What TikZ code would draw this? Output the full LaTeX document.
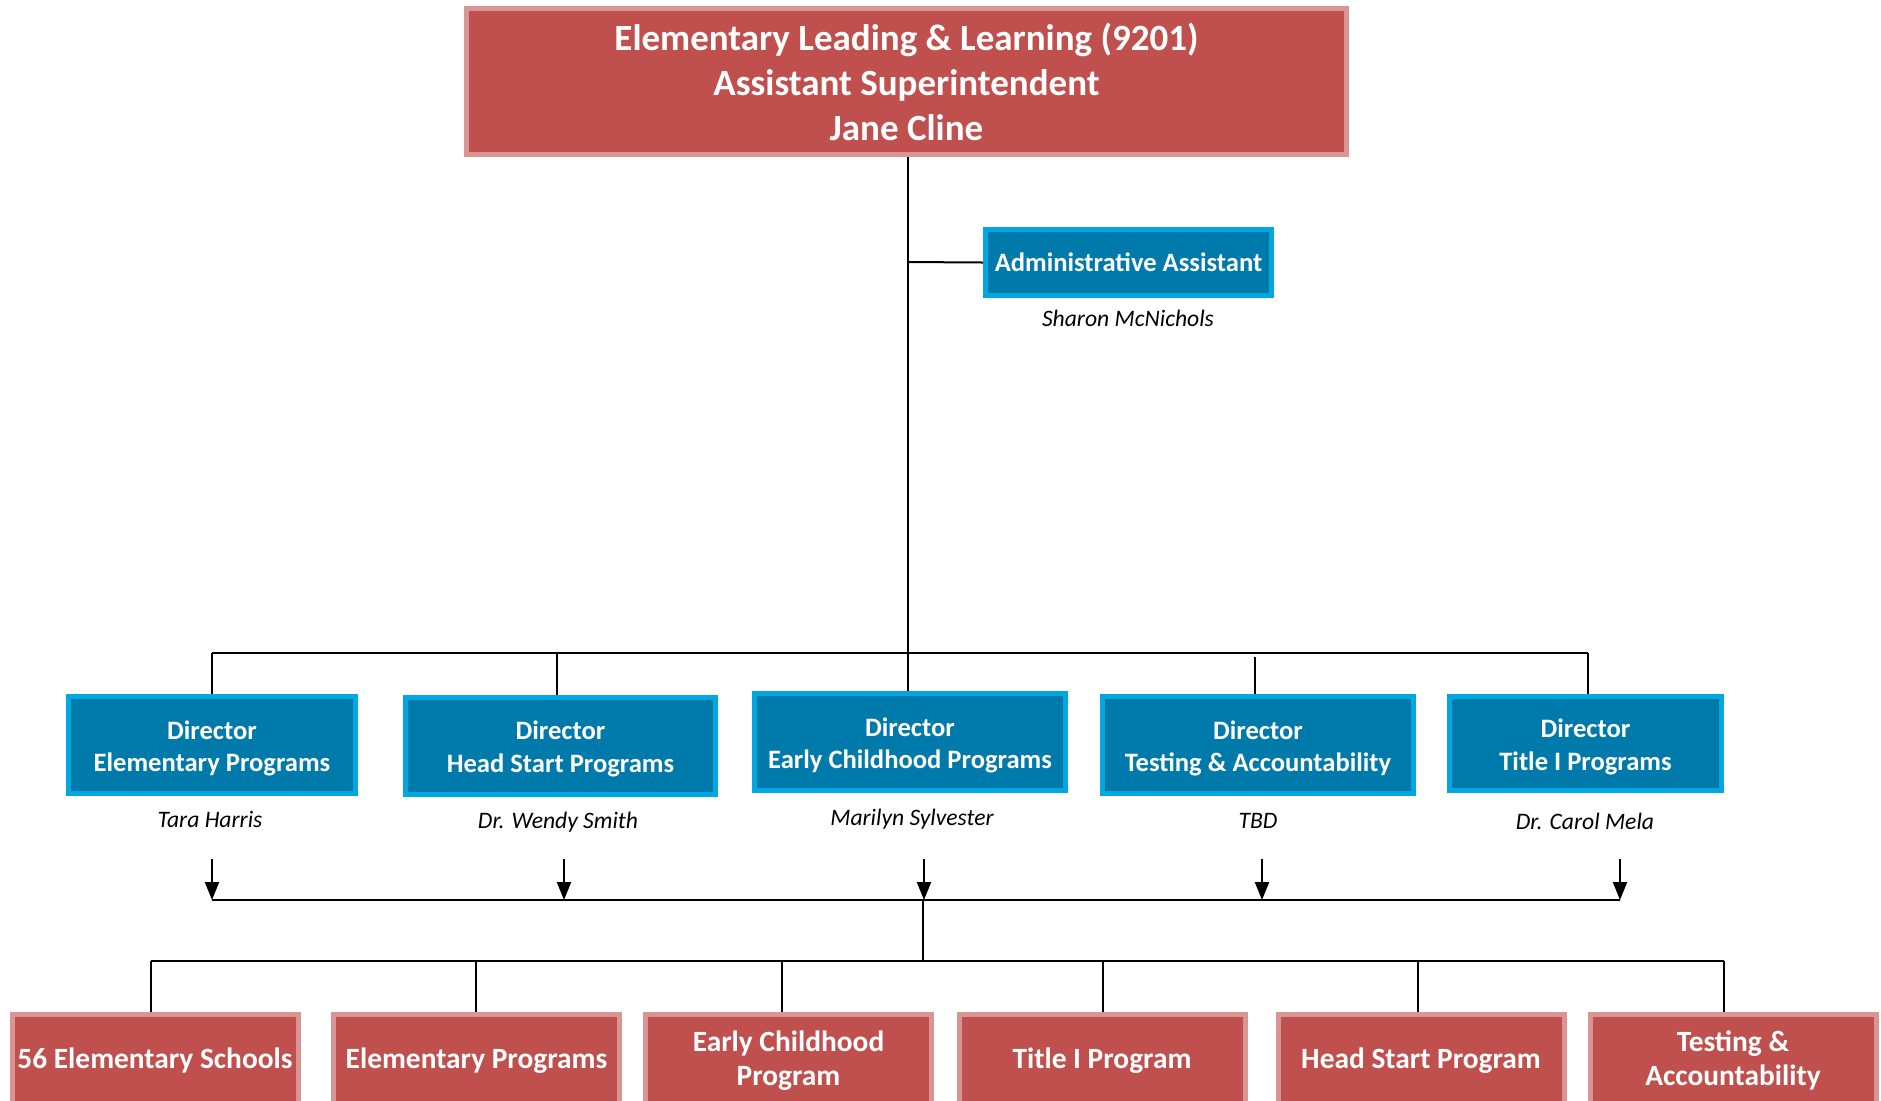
\documentclass[tikz,border=0pt]{standalone}
\usepackage{fontspec}
\setmainfont{Carlito}
\usetikzlibrary{arrows.meta}
\definecolor{redfill}{HTML}{C0504D}
\definecolor{redline}{HTML}{D99594}
\definecolor{bluefill}{HTML}{0079AB}
\definecolor{blueline}{HTML}{00A7E1}
\newcommand{\dirstrut}{\rule{0pt}{12.8pt}}
\begin{document}
\begin{tikzpicture}[x=0.5pt,y=-0.5pt,
  topbox/.style={draw=redline, fill=redfill, line width=2.5pt, text=white,
    font=\bfseries\fontsize{18.5}{22.5}\selectfont, align=center, inner sep=0pt,
    minimum width=440pt, minimum height=73pt},
  adminbox/.style={draw=blueline, fill=bluefill, line width=2.5pt, text=white,
    font=\bfseries\fontsize{13.3}{16.2}\selectfont, align=center, inner sep=0pt,
    minimum width=143pt, minimum height=33pt},
  dirbox/.style={draw=blueline, fill=bluefill, line width=2.5pt, text=white,
    font=\bfseries\fontsize{13.3}{16.2}\selectfont, align=center, inner sep=0pt,
    minimum height=48.5pt},
  unitbox/.style={draw=redline, fill=redfill, line width=2.5pt, text=white,
    font=\bfseries\fontsize{14.7}{17}\selectfont, align=center, inner sep=0pt,
    minimum width=143pt, minimum height=45.75pt},
  namelabel/.style={font=\itshape\fontsize{11.8}{14}\selectfont, inner sep=0pt},
  conn/.style={line width=1pt, black},
  bus/.style={line width=1.3pt, black},
  arr/.style={line width=1.1pt, black, -{Triangle[width=7pt,length=9pt]}}
]
\useasboundingbox (0,0) rectangle (1881,1100);
\clip (0,0) rectangle (1881,1100);
\fill[white] (0,0) rectangle (1881,1100);

% top
\node[topbox] (top) at (906.5,81.5) {Elementary Leading \& Learning (9201)\\Assistant Superintendent\\Jane Cline};

% admin
\node[adminbox] (admin) at (1128.5,262.5) {Administrative Assistant};
\node[namelabel] (adminname) at (1128,318) {Sharon McNichols};

% directors
\node[dirbox, minimum width=143.5pt] (d1) at (212,745) {\dirstrut Director\\Elementary Programs};
\node[dirbox, minimum width=155pt] (d2) at (560.5,745.5) {\dirstrut Director\\Head Start Programs};
\node[dirbox, minimum width=155.5pt] (d3) at (910,742) {\dirstrut Director\\Early Childhood Programs};
\node[dirbox, minimum width=155.5pt] (d4) at (1258,745) {\dirstrut Director\\Testing \& Accountability};
\node[dirbox, minimum width=136pt, minimum height=47pt] (d5) at (1585.5,743.5) {\dirstrut Director\\Title I Programs};

\node[namelabel] (n1) at (210,819) {Tara Harris};
\node[namelabel] (n2) at (558,822) {Dr. Wendy Smith};
\node[namelabel] (n3) at (912,819) {Marilyn Sylvester};
\node[namelabel] (n4) at (1258,821) {TBD};
\node[namelabel] (n5) at (1585,821) {Dr. Carol Mela};

% bottom units
\node[unitbox] (b1) at (155,1060.25) {56 Elementary Schools};
\node[unitbox] (b2) at (476.5,1060.25) {Elementary Programs};
\node[unitbox] (b3) at (788.5,1060.25) {Early Childhood\\Program};
\node[unitbox] (b4) at (1102,1060.25) {Title I Program};
\node[unitbox] (b5) at (1421,1060.25) {Head Start Program};
\node[unitbox] (b6) at (1733,1060.25) {Testing \&\\Accountability};

% junctions
\coordinate (vmain) at (908,157);
\coordinate (j1) at (908,653);
\coordinate (jadmin) at (908,262);
\coordinate (a1) at (212,859);
\coordinate (a2) at (564,859);
\coordinate (a3) at (924,859);
\coordinate (a4) at (1262,859);
\coordinate (a5) at (1620,859);
\coordinate (j2) at (923,900);
\coordinate (j3) at (923,961);

% connectors top
\draw[conn] (vmain) -- (vmain |- d3.north);
\draw[conn] (jadmin) -- (admin.west);
\draw[bus] (d1.north |- j1) -- (1588,653);
\draw[conn] (d1.north |- j1) -- (d1.north);
\draw[conn] (557,653) -- (557,0 |- d2.north);
\draw[conn] (1255,657) -- (1255,0 |- d4.north);
\draw[conn] (1588,653) -- (1588,0 |- d5.north);

% arrows
\draw[arr] (a1) -- (a1 |- j2);
\draw[arr] (a2) -- (a2 |- j2);
\draw[arr] (a3) -- (a3 |- j2);
\draw[arr] (a4) -- (a4 |- j2);
\draw[arr] (a5) -- (a5 |- j2);
\draw[bus] (a1 |- j2) -- (a5 |- j2);
\draw[conn] (j2) -- (j3);

% bottom bus
\draw[bus] (151,961) -- (1724,961);
\draw[conn] (151,961) -- (151,0 |- b1.north);
\draw[conn] (476,961) -- (476,0 |- b2.north);
\draw[conn] (782,961) -- (782,0 |- b3.north);
\draw[conn] (1103,961) -- (1103,0 |- b4.north);
\draw[conn] (1418,961) -- (1418,0 |- b5.north);
\draw[conn] (1724,961) -- (1724,0 |- b6.north);
\end{tikzpicture}
\end{document}
